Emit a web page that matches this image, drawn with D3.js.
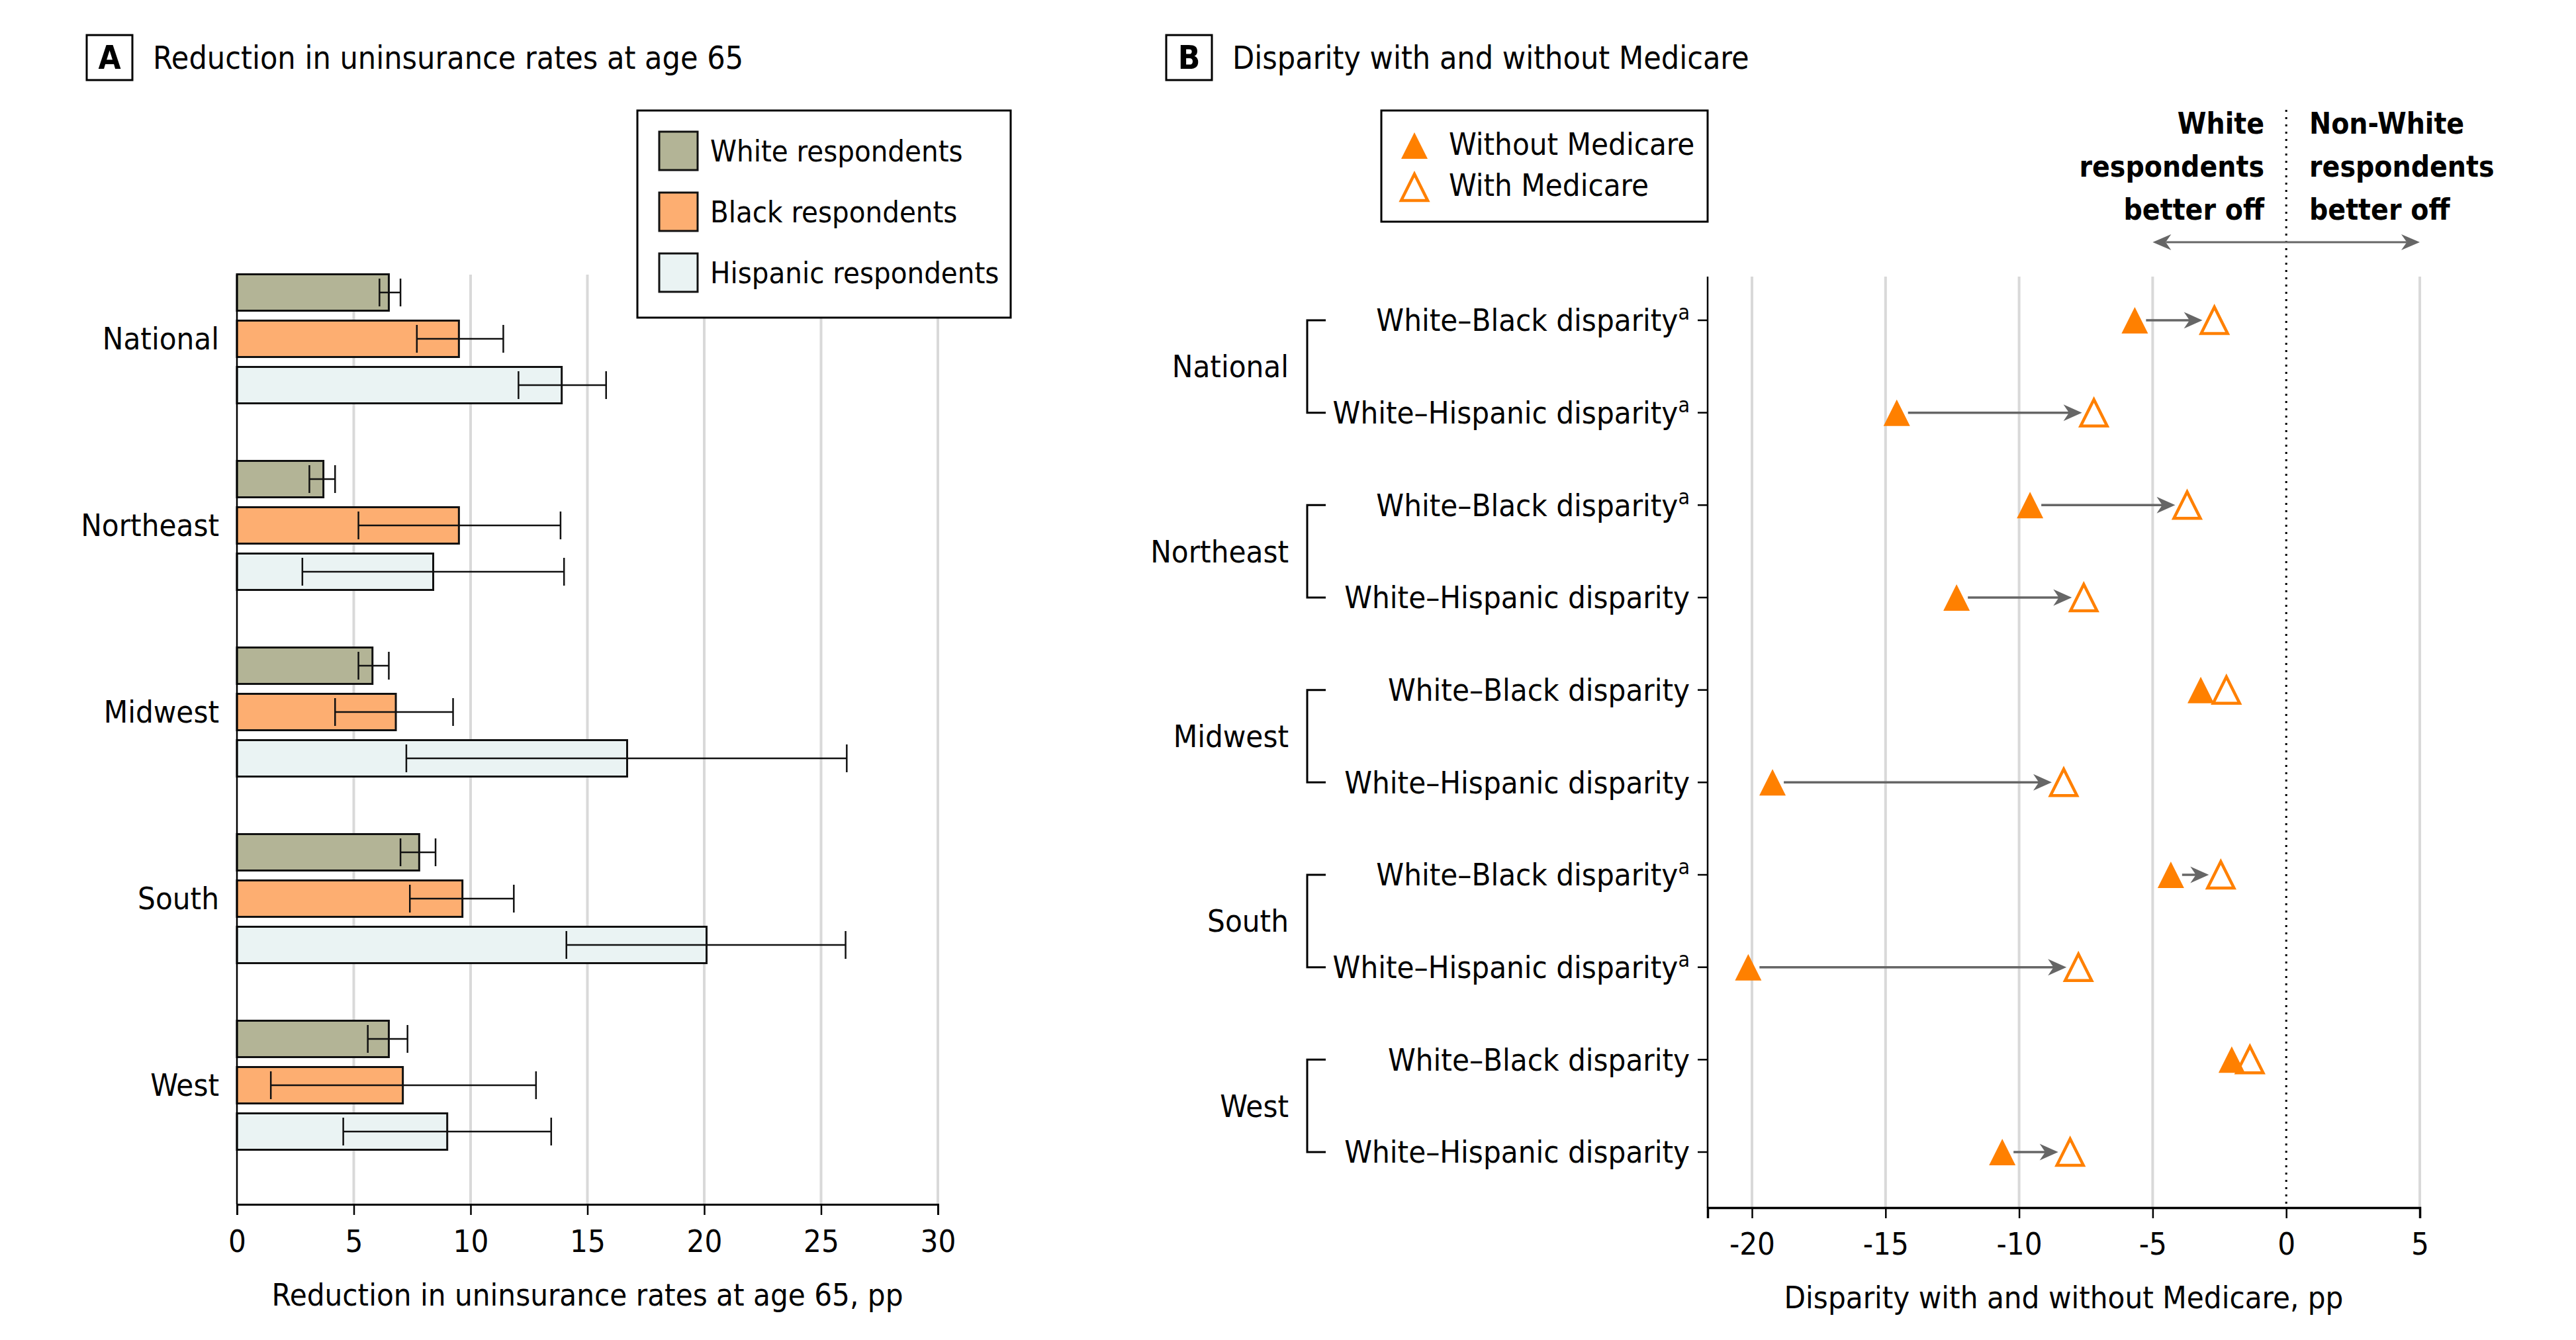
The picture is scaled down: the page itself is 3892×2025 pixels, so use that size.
<!DOCTYPE html>
<html>
<head>
<meta charset="utf-8">
<script src="https://cdn.jsdelivr.net/npm/d3@7"></script>
<style>
  html, body { margin: 0; padding: 0; background: #fff; }
  svg { display: block; }
  text { font-family: "Liberation Sans Narrow", "Arial Narrow", "DejaVu Sans Condensed", sans-serif; fill: #000; }
</style>
</head>
<body>
<svg id="chart" width="3892" height="2025"></svg>
<script>
// ---------------- DATA ----------------
const regions = ["National", "Northeast", "Midwest", "South", "West"];
const races = ["White respondents", "Black respondents", "Hispanic respondents"];

// Panel A: reduction in uninsurance rates at age 65 (pp), with 95% CI
const whiteVals = [6.5, 3.7, 5.8, 7.8, 6.5];
const whiteLo   = [6.1, 3.1, 5.2, 7.0, 5.6];
const whiteHi   = [7.0, 4.2, 6.5, 8.5, 7.3];
const blackVals = [9.5, 9.5, 6.8, 9.65, 7.1];
const blackLo   = [7.7, 5.2, 4.2, 7.4, 1.45];
const blackHi   = [11.4, 13.85, 9.25, 11.85, 12.8];
const hispVals  = [13.9, 8.4, 16.7, 20.1, 9.0];
const hispLo    = [12.05, 2.8, 7.25, 14.1, 4.55];
const hispHi    = [15.8, 14.0, 26.1, 26.05, 13.45];
const xTicksA   = [0, 5, 10, 15, 20, 25, 30];

// Panel B: disparity with and without Medicare (pp)
const comparisons = ["White–Black disparity", "White–Hispanic disparity"];
const footnoteA = [true, true, true, false, false, false, true, true, false, false];
const withoutMedicare = [-5.67, -14.58, -9.59, -12.34, -3.2, -19.23, -4.32, -20.14, -2.04, -10.63];
const withMedicare    = [-2.69, -7.2, -3.71, -7.58, -2.24, -8.33, -2.45, -7.78, -1.36, -8.09];
const xTicksB = [-20, -15, -10, -5, 0, 5];

// ---------------- STYLE ----------------
const FS = 47;
const colors = ["#b3b496", "#fdae71", "#eaf3f3"];
const orange = "#ff8000";
const gridCol = "#d9d9d9";
const arrowCol = "#666666";

const svg = d3.select("#chart");
svg.append("rect").attr("width", 3892).attr("height", 2025).attr("fill", "#fff");

function panelLabel(x, letter, title) {
  svg.append("rect").attr("x", x).attr("y", 53).attr("width", 69).attr("height", 68)
    .attr("fill", "#fff").attr("stroke", "#000").attr("stroke-width", 3);
  svg.append("text").attr("x", x + 34.5).attr("y", 87).attr("dy", "0.35em")
    .attr("text-anchor", "middle").attr("font-weight", "bold").attr("font-size", 49).text(letter);
  svg.append("text").attr("x", x + 100).attr("y", 87).attr("dy", "0.35em")
    .attr("font-size", 48).text(title);
}
panelLabel(131, "A", "Reduction in uninsurance rates at age 65");
panelLabel(1762, "B", "Disparity with and without Medicare");

// ================= PANEL A =================
const xA = d3.scaleLinear().domain([0, 30]).range([358, 1417]);
const yGroup = d3.scaleBand().domain(regions).range([371, 1781]).paddingInner(0).paddingOuter(0);
const ySub = d3.scaleBand().domain(races)
  .range([yGroup.bandwidth() / 2 - 105, yGroup.bandwidth() / 2 + 105])
  .paddingInner(15 / 70).paddingOuter(7.5 / 70);
const topA = 415, botA = 1820;

const gA = svg.append("g");
gA.selectAll("line.grid").data(xTicksA.filter(d => d > 0)).join("line")
  .attr("x1", d => xA(d)).attr("x2", d => xA(d))
  .attr("y1", topA).attr("y2", botA)
  .attr("stroke", gridCol).attr("stroke-width", 4);

const valsA = [whiteVals, blackVals, hispVals];
const losA = [whiteLo, blackLo, hispLo];
const hisA = [whiteHi, blackHi, hispHi];
const barData = [];
regions.forEach((reg, i) => races.forEach((race, j) => {
  barData.push({ reg, race, j, v: valsA[j][i], lo: losA[j][i], hi: hisA[j][i] });
}));

gA.selectAll("rect.bar").data(barData).join("rect")
  .attr("x", xA(0))
  .attr("y", d => yGroup(d.reg) + ySub(d.race))
  .attr("width", d => xA(d.v) - xA(0))
  .attr("height", ySub.bandwidth())
  .attr("fill", d => colors[d.j])
  .attr("stroke", "#111").attr("stroke-width", 3);

const eb = gA.selectAll("g.eb").data(barData).join("g")
  .attr("transform", d => `translate(0,${yGroup(d.reg) + ySub(d.race) + ySub.bandwidth() / 2})`);
eb.append("line").attr("x1", d => xA(d.lo)).attr("x2", d => xA(d.hi))
  .attr("stroke", "#111").attr("stroke-width", 2.5);
eb.append("line").attr("x1", d => xA(d.lo)).attr("x2", d => xA(d.lo)).attr("y1", -21).attr("y2", 21)
  .attr("stroke", "#111").attr("stroke-width", 2.5);
eb.append("line").attr("x1", d => xA(d.hi)).attr("x2", d => xA(d.hi)).attr("y1", -21).attr("y2", 21)
  .attr("stroke", "#111").attr("stroke-width", 2.5);

gA.append("line").attr("x1", xA(0)).attr("x2", xA(0)).attr("y1", topA).attr("y2", botA)
  .attr("stroke", "#000").attr("stroke-width", 2.5);
const axA = d3.axisBottom(xA).tickValues(xTicksA).tickSize(16).tickPadding(23).tickFormat(d3.format("d"));
const axAg = gA.append("g").attr("transform", `translate(0,${botA})`).call(axA);
axAg.select(".domain").attr("stroke", "#000").attr("stroke-width", 3);
axAg.selectAll(".tick line").attr("stroke", "#000").attr("stroke-width", 2.5);
axAg.selectAll(".tick text").attr("font-size", FS).attr("font-family", null).attr("fill", "#000");

gA.selectAll("text.reg").data(regions).join("text")
  .attr("x", 331).attr("y", d => yGroup(d) + yGroup.bandwidth() / 2).attr("dy", "0.35em")
  .attr("text-anchor", "end").attr("font-size", FS).text(d => d);

gA.append("text").attr("x", (xA(0) + xA(30)) / 2).attr("y", 1957).attr("dy", "0.35em")
  .attr("text-anchor", "middle").attr("font-size", FS)
  .text("Reduction in uninsurance rates at age 65, pp");

// legend A
const legA = gA.append("g");
legA.append("rect").attr("x", 963).attr("y", 167).attr("width", 564).attr("height", 313)
  .attr("fill", "#fff").attr("stroke", "#000").attr("stroke-width", 3);
const legRowsA = legA.selectAll("g.li").data(races).join("g")
  .attr("transform", (d, i) => `translate(996,${228 + i * 92})`);
legRowsA.append("rect").attr("x", 0).attr("y", -29).attr("width", 58).attr("height", 58)
  .attr("fill", (d, i) => colors[i]).attr("stroke", "#111").attr("stroke-width", 3);
legRowsA.append("text").attr("x", 77).attr("dy", "0.35em").attr("font-size", 45).text(d => d);

// ================= PANEL B =================
const xB = d3.scaleLinear().domain([-21.66, 5]).range([2580, 3656]);
const rowIds = d3.range(regions.length * comparisons.length);
const yRow = d3.scalePoint().domain(rowIds).range([484, 1741]);
const topB = 418, botB = 1825;

const gB = svg.append("g");
gB.selectAll("line.grid").data(xTicksB.filter(d => d !== 0)).join("line")
  .attr("x1", d => xB(d)).attr("x2", d => xB(d)).attr("y1", topB).attr("y2", botB)
  .attr("stroke", gridCol).attr("stroke-width", 4);
gB.append("line").attr("x1", xB(0)).attr("x2", xB(0)).attr("y1", 166).attr("y2", botB)
  .attr("stroke", "#000").attr("stroke-width", 3).attr("stroke-dasharray", "3,8");

gB.append("line").attr("x1", xB.range()[0]).attr("x2", xB.range()[0]).attr("y1", topB).attr("y2", botB)
  .attr("stroke", "#000").attr("stroke-width", 2.5);
const axB = d3.axisBottom(xB).tickValues(xTicksB).tickSize(16).tickPadding(22).tickFormat(d => String(d));
const axBg = gB.append("g").attr("transform", `translate(0,${botB})`).call(axB);
axBg.select(".domain").attr("stroke", "#000").attr("stroke-width", 3.5);
axBg.selectAll(".tick line").attr("stroke", "#000").attr("stroke-width", 2.5);
axBg.selectAll(".tick text").attr("font-size", FS).attr("font-family", null).attr("fill", "#000");

gB.append("text").attr("x", (xB.range()[0] + xB.range()[1]) / 2).attr("y", 1961).attr("dy", "0.35em")
  .attr("text-anchor", "middle").attr("font-size", FS)
  .text("Disparity with and without Medicare, pp");

const rowData = rowIds.map(i => ({
  i, reg: regions[Math.floor(i / 2)], comp: comparisons[i % 2], fn: footnoteA[i],
  wo: withoutMedicare[i], w: withMedicare[i]
}));
gB.selectAll("line.rtick").data(rowData).join("line")
  .attr("x1", xB.range()[0] - 15).attr("x2", xB.range()[0])
  .attr("y1", d => yRow(d.i)).attr("y2", d => yRow(d.i))
  .attr("stroke", "#000").attr("stroke-width", 2.5);
const rl = gB.selectAll("text.rl").data(rowData).join("text")
  .attr("x", 2553).attr("y", d => yRow(d.i)).attr("dy", "0.35em")
  .attr("text-anchor", "end").attr("font-size", FS);
rl.append("tspan").text(d => d.comp);
rl.filter(d => d.fn).append("tspan").attr("font-size", FS * 0.68).attr("dy", "-0.55em").text("a");

regions.forEach((reg, g) => {
  const y1 = yRow(g * 2), y2 = yRow(g * 2 + 1);
  gB.append("path")
    .attr("d", `M2003,${y1} H1975 V${y2} H2003`)
    .attr("fill", "none").attr("stroke", "#000").attr("stroke-width", 3);
  gB.append("text").attr("x", 1947).attr("y", (y1 + y2) / 2).attr("dy", "0.35em")
    .attr("text-anchor", "end").attr("font-size", FS).text(reg);
});

const triPath = (cx, cy) => `M${cx},${cy - 20} L${cx + 20},${cy + 20} L${cx - 20},${cy + 20} Z`;
function arrowHead(tipX, y, dir, len, half) {
  const b = tipX - dir * len, n = tipX - dir * len * 0.7;
  return `M${tipX},${y} L${b},${y - half} L${n},${y} L${b},${y + half} Z`;
}
rowData.forEach(d => {
  const y = yRow(d.i), xf = xB(d.wo), xo = xB(d.w);
  if (xo - xf > 50) {
    const tip = xo - 18;
    gB.append("line").attr("x1", xf + 17).attr("x2", tip - 18).attr("y1", y).attr("y2", y)
      .attr("stroke", arrowCol).attr("stroke-width", 3.5);
    gB.append("path").attr("d", arrowHead(tip, y, 1, 28, 12.5)).attr("fill", arrowCol);
  }
});
gB.selectAll("path.open").data(rowData).join("path")
  .attr("d", d => triPath(xB(d.w), yRow(d.i)))
  .attr("fill", "#fff").attr("stroke", orange).attr("stroke-width", 4.5);
gB.selectAll("path.filled").data(rowData).join("path")
  .attr("d", d => triPath(xB(d.wo), yRow(d.i)))
  .attr("fill", orange);

// legend B
gB.append("rect").attr("x", 2087).attr("y", 167).attr("width", 493).attr("height", 168)
  .attr("fill", "#fff").attr("stroke", "#000").attr("stroke-width", 3);
gB.append("path").attr("d", triPath(2137, 220)).attr("fill", orange);
gB.append("path").attr("d", triPath(2137, 283)).attr("fill", "#fff").attr("stroke", orange).attr("stroke-width", 4.5);
gB.append("text").attr("x", 2189).attr("y", 218).attr("dy", "0.35em").attr("font-size", FS).text("Without Medicare");
gB.append("text").attr("x", 2189).attr("y", 280).attr("dy", "0.35em").attr("font-size", FS).text("With Medicare");

// annotation
const leftLines = ["White", "respondents", "better off"];
const rightLines = ["Non-White", "respondents", "better off"];
leftLines.forEach((t, k) => gB.append("text").attr("x", 3421).attr("y", 187 + k * 65).attr("dy", "0.35em")
  .attr("text-anchor", "end").attr("font-weight", "bold").attr("font-size", 44).text(t));
rightLines.forEach((t, k) => gB.append("text").attr("x", 3489).attr("y", 187 + k * 65).attr("dy", "0.35em")
  .attr("text-anchor", "start").attr("font-weight", "bold").attr("font-size", 44).text(t));
gB.append("line").attr("x1", xB(-5) + 20).attr("x2", xB(5) - 20).attr("y1", 366).attr("y2", 366)
  .attr("stroke", arrowCol).attr("stroke-width", 3);
gB.append("path").attr("d", arrowHead(xB(-5), 366, -1, 28, 12)).attr("fill", arrowCol);
gB.append("path").attr("d", arrowHead(xB(5), 366, 1, 28, 12)).attr("fill", arrowCol);
</script>
</body>
</html>
